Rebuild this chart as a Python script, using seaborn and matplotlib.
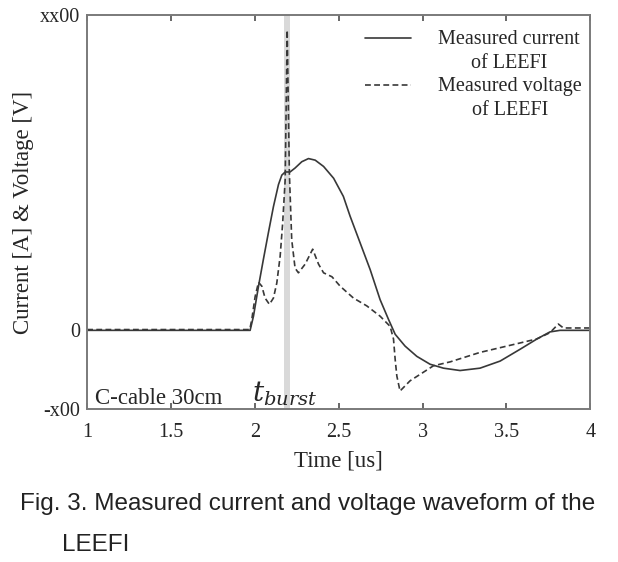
import matplotlib
matplotlib.use("Agg")
import matplotlib.pyplot as plt
import seaborn as sns
import pandas as pd
from matplotlib.legend_handler import HandlerLine2D

# ---- data ----
cur_t = [1.0, 1.972, 1.992, 2.022, 2.051, 2.081, 2.111, 2.141, 2.161, 2.181, 2.21, 2.24,
         2.28, 2.32, 2.36, 2.41, 2.47, 2.528, 2.568, 2.628, 2.688, 2.747, 2.797, 2.837,
         2.896, 2.966, 3.045, 3.125, 3.224, 3.343, 3.463, 3.582, 3.682, 3.76, 3.82, 4.0]
cur_v = [0, 0, 18, 56, 90, 124, 157, 185, 197, 201, 201, 206,
         214, 218, 216, 208, 193, 170, 145, 111, 77, 39, 14, -5,
         -20, -33, -43, -48, -51, -48, -39, -24, -11, -2, 0, 0]

vol_t = [1.0, 1.97, 1.982, 2.002, 2.022, 2.042, 2.061, 2.087, 2.111, 2.131, 2.151, 2.166,
         2.181, 2.193, 2.206, 2.22, 2.24, 2.26, 2.30, 2.345, 2.38, 2.41, 2.46, 2.509,
         2.588, 2.668, 2.747, 2.807, 2.827, 2.837, 2.847, 2.866, 2.926, 3.065, 3.165,
         3.224, 3.343, 3.463, 3.582, 3.68, 3.76, 3.81, 3.84, 4.0]
vol_v = [1, 1, 14, 43, 61, 56, 41, 33, 41, 60, 94, 136,
         191, 381, 200, 115, 79, 73, 84, 103, 84, 73, 68, 56,
         41, 31, 18, 5, -11, -37, -58, -77, -64, -45, -40,
         -36, -28, -22, -16, -11, -3, 8, 3, 3]

burst_t = 2.192
y_ticks = [-100, 0, 400]
y_tick_labels = ["-x00", "0", "xx00"]
x_ticks = [1, 1.5, 2, 2.5, 3, 3.5, 4]
x_tick_labels = ["1", "1.5", "2", "2.5", "3", "3.5", "4"]
labels = ["Measured current\nof LEEFI", "Measured voltage\nof LEEFI"]

sns.set_theme(style="white")
plt.rcParams["font.family"] = ["Liberation Serif", "DejaVu Serif"]
plt.rcParams["mathtext.fontset"] = "dejavuserif"


class TopHandler(HandlerLine2D):
    """Place the legend line on the first line of a two-line label."""
    def create_artists(self, legend, orig_handle, xdescent, ydescent,
                       width, height, fontsize, trans):
        return super().create_artists(legend, orig_handle, xdescent,
                                      ydescent - 1.35 * fontsize, width, height,
                                      fontsize, trans)


fig = plt.figure(figsize=(6.18, 5.62), dpi=100)
ax = fig.add_axes([0.141, 0.272, 0.814, 0.701])

ax.axvspan(burst_t - 0.017, burst_t + 0.017, color="#d9d9d9", lw=0, zorder=0)

df_c = pd.DataFrame({"t": cur_t, "v": cur_v})
df_v = pd.DataFrame({"t": vol_t, "v": vol_v})
sns.lineplot(data=df_c, x="t", y="v", ax=ax, color="#383838", lw=1.2,
             label=labels[0], sort=False)
sns.lineplot(data=df_v, x="t", y="v", ax=ax, color="#383838", lw=1.2,
             linestyle=(0, (3.5, 2)), label=labels[1], sort=False)

ax.set_xlim(1, 4)
ax.set_ylim(-100, 400)
ax.set_xticks(x_ticks)
ax.set_xticklabels(x_tick_labels, fontsize=14.5)
ax.set_yticks(y_ticks)
ax.set_yticklabels(y_tick_labels, fontsize=14.5)
ax.tick_params(axis="x", direction="in", length=4, top=True, bottom=True,
               color="#555555", pad=10)
ax.tick_params(axis="y", direction="in", length=0, pad=5)
for s in ax.spines.values():
    s.set_color("#7a7a7a")
    s.set_linewidth(1.4)

ax.set_xlabel("Time [us]", fontsize=16.5, labelpad=6)
ax.set_ylabel("Current [A] & Voltage [V]", fontsize=16.5, labelpad=4)

handles, _ = ax.get_legend_handles_labels()
leg = ax.legend(handles, labels, loc="upper right", bbox_to_anchor=(1.0, 0.982),
                frameon=False, fontsize=14.5,
                handlelength=2.3, handletextpad=1.35, labelspacing=0.22,
                borderpad=0.1, borderaxespad=0.3,
                handler_map={h: TopHandler() for h in handles})
for t in leg.get_texts():
    t.set_multialignment("center")
    t.set_linespacing(1.32)

ax.text(1.048, -94, "C-cable 30cm", fontsize=16.5, ha="left", va="baseline")
ax.text(1.984, -90, r"$t_{burst}$", fontsize=20, ha="left", va="baseline")

cap_font = ["Liberation Sans", "DejaVu Sans"]
fig.text(0.032, 0.092, "Fig. 3. Measured current and voltage waveform of the",
         fontsize=17.5, family=cap_font, color="#222222", va="baseline")
fig.text(0.100, 0.020, "LEEFI", fontsize=17.5, family=cap_font, color="#222222",
         va="baseline")

fig.savefig("out.png", dpi=100)
